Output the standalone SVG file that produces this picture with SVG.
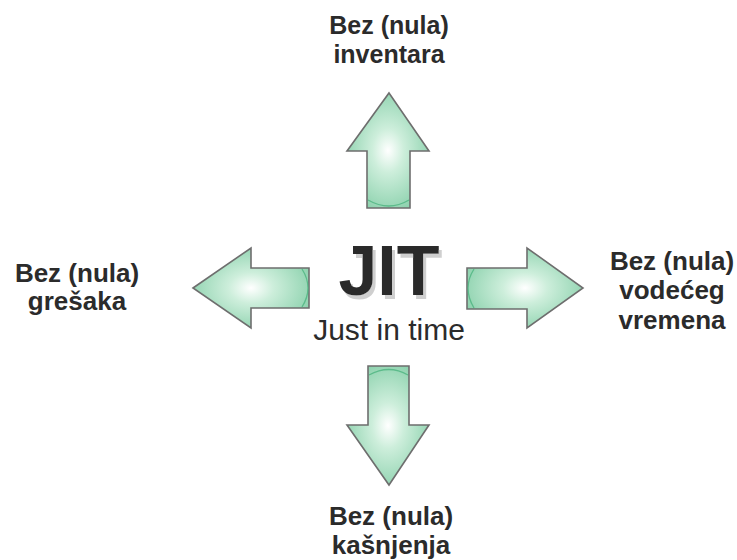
<svg xmlns="http://www.w3.org/2000/svg" width="737" height="560" viewBox="0 0 737 560">
  <defs>
    <radialGradient id="mint" cx="0.5" cy="0.5" r="0.55">
      <stop offset="0" stop-color="#ffffff"/>
      <stop offset="0.35" stop-color="#cdeedb"/>
      <stop offset="1" stop-color="#8dd2ae"/>
    </radialGradient>
    <!-- soft grey offset copy behind the title -->
    <filter id="titleShadow" x="-10%" y="-10%" width="130%" height="130%">
      <feOffset in="SourceAlpha" dx="3" dy="4" result="off"/>
      <feFlood flood-color="#cfcfcf"/>
      <feComposite in2="off" operator="in" result="shadow"/>
      <feMerge>
        <feMergeNode in="shadow"/>
        <feMergeNode in="SourceGraphic"/>
      </feMerge>
    </filter>
    <style>
      .arrow { fill: url(#mint); stroke: #6e6e6e; stroke-width: 1.6; stroke-linejoin: miter; }
      .arc { fill: none; stroke: #4cb47f; stroke-width: 1.3; stroke-opacity: 0.8; }
      .label { font-family: "Liberation Sans", Arial, sans-serif; font-weight: bold; font-size: 26px; fill: #2b2b2b; text-anchor: middle; }
      .title { font-family: "Liberation Sans", Arial, sans-serif; font-weight: bold; font-size: 70px; fill: #2a2a2a; text-anchor: middle; }
      .sub { font-family: "Liberation Sans", Arial, sans-serif; font-size: 30px; fill: #2b2b2b; text-anchor: middle; }
    </style>
  </defs>

  <rect width="737" height="560" fill="#ffffff"/>

  <g id="connectors">
    <g id="arrow-up">
      <path class="arrow" d="M389,93 L429,151 L410,151 L410,208 L367,208 L367,151 L347,151 Z"/>
      <path class="arc" d="M368,200 Q389,212 409,200"/>
    </g>
    <g id="arrow-down">
      <path class="arrow" d="M368,366 L409,366 L409,425 L429,425 L389,485 L347,425 L368,425 Z"/>
      <path class="arc" d="M369,375 Q389,364 408,375"/>
    </g>
    <g id="arrow-left">
      <path class="arrow" d="M193,288 L251,248 L251,268 L309,268 L309,308 L251,308 L251,328 Z"/>
      <path class="arc" d="M302,269 Q314,288 302,307"/>
    </g>
    <g id="arrow-right">
      <path class="arrow" d="M467,268 L527,268 L527,248 L583,288 L527,328 L527,309 L467,309 Z"/>
      <path class="arc" d="M474,269 Q462,288 474,308"/>
    </g>
  </g>

  <g id="center">
    <text class="title" x="389" y="295" filter="url(#titleShadow)">JIT</text>
    <text class="sub" x="389" y="340">Just in time</text>
  </g>

  <g id="node-top">
    <text class="label" x="389" y="34" style="font-size:25px">Bez (nula)</text>
    <text class="label" x="389" y="63" style="font-size:25px">inventara</text>
  </g>

  <g id="node-left">
    <text class="label" x="77" y="282">Bez (nula)</text>
    <text class="label" x="77" y="310">grešaka</text>
  </g>

  <g id="node-right">
    <text class="label" x="672" y="270">Bez (nula)</text>
    <text class="label" x="672" y="299">vodećeg</text>
    <text class="label" x="672" y="329">vremena</text>
  </g>

  <g id="node-bottom">
    <text class="label" x="391" y="525">Bez (nula)</text>
    <text class="label" x="391" y="554">kašnjenja</text>
  </g>
</svg>
